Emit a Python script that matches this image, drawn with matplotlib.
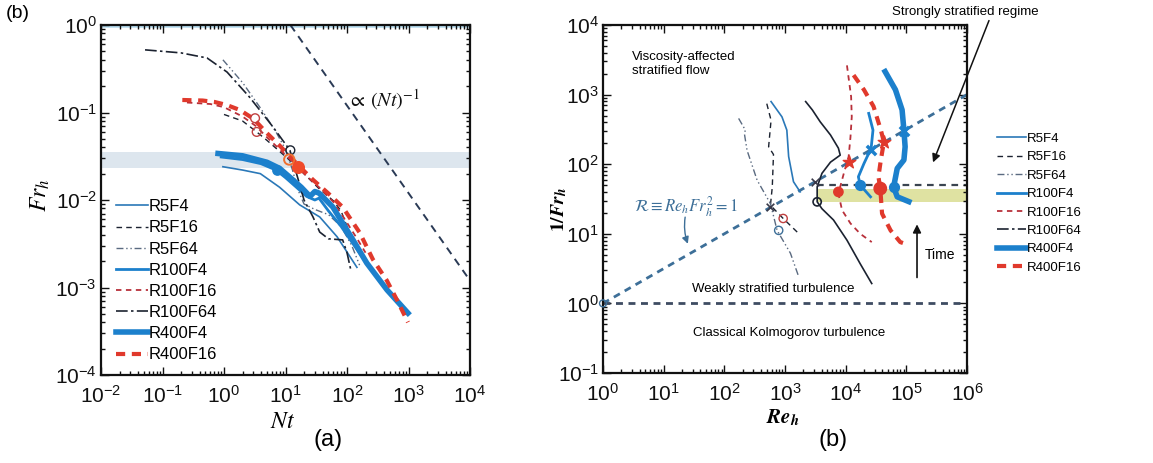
import numpy as np
import matplotlib
matplotlib.use('Agg')
import matplotlib.pyplot as plt
from matplotlib.ticker import LogLocator, LogFormatterSciNotation, NullFormatter

plt.rcParams['font.family'] = ['Liberation Sans', 'DejaVu Sans']
plt.rcParams['mathtext.fontset'] = 'custom'
plt.rcParams['mathtext.rm'] = 'Liberation Sans'
plt.rcParams['mathtext.it'] = 'Liberation Sans:italic'
plt.rcParams['mathtext.bf'] = 'Liberation Sans:bold'

# ---------------- data: panel (a)  Fr_h vs Nt ----------------
labels = ['R5F4', 'R5F16', 'R5F64', 'R100F4', 'R100F16', 'R100F64', 'R400F4', 'R400F16']

a_R5F4_nt = [0.96, 2, 3.9, 8, 17, 36, 69, 145]
a_R5F4_fr = [0.024, 0.022, 0.02, 0.014, 0.0088, 0.0064, 0.0038, 0.0017]

a_R5F16_nt = [1.0, 2, 3.4, 5, 8, 12, 20, 35, 60, 80, 100, 130]
a_R5F16_fr = [0.095, 0.08, 0.06, 0.048, 0.036, 0.028, 0.02, 0.0135, 0.0098, 0.0075, 0.005, 0.0032]

a_R5F64_nt = [0.96, 2, 4, 7, 10, 13, 16, 20, 30, 50, 80, 120, 160]
a_R5F64_fr = [0.4, 0.22, 0.11, 0.06, 0.038, 0.022, 0.013, 0.009, 0.0078, 0.0068, 0.005, 0.003, 0.0018]

a_R100F4_nt = [0.9, 2, 4, 7, 10, 15, 22, 30, 35, 50, 80, 120, 180]
a_R100F4_fr = [0.031, 0.029, 0.026, 0.022, 0.018, 0.014, 0.011, 0.01, 0.0105, 0.0075, 0.005, 0.0033, 0.0022]

a_R100F16_nt = [0.25, 0.6, 1, 2, 3.3, 5, 8, 12, 20, 35, 60, 100, 150, 200]
a_R100F16_fr = [0.13, 0.125, 0.115, 0.09, 0.07, 0.052, 0.038, 0.029, 0.02, 0.014, 0.0095, 0.0055, 0.0035, 0.0025]

a_R100F64_nt = [0.052, 0.2, 0.53, 1.12, 2.6, 6.3, 11.8, 14, 17.5, 20, 28, 36, 50, 85, 100, 115]
a_R100F64_fr = [0.52, 0.48, 0.42, 0.29, 0.15, 0.068, 0.037, 0.024, 0.014, 0.01, 0.0064, 0.0043, 0.0036, 0.0035, 0.0025, 0.0016]

a_R400F4_nt = [0.8, 2, 5, 8, 12, 18, 25, 30, 35, 59, 125, 210, 447, 980]
a_R400F4_fr = [0.034, 0.032, 0.027, 0.023, 0.018, 0.014, 0.011, 0.0125, 0.012, 0.0083, 0.0035, 0.0019, 0.00094, 0.00051]

a_R400F16_nt = [0.21, 0.45, 0.7, 1.1, 1.8, 3, 5, 8, 12, 17, 28, 49, 85, 162, 263, 445, 650, 980]
a_R400F16_fr = [0.139, 0.137, 0.132, 0.122, 0.107, 0.085, 0.058, 0.042, 0.031, 0.024, 0.017, 0.012, 0.0083, 0.0042, 0.0021, 0.0012, 0.00072, 0.0004]

a_ref_nt = [12, 1e4]          # proportional to (Nt)^-1
a_ref_fr = [1.0, 0.0012]
band_fr = [0.023, 0.035]

a_mark_open_nt = [12, 3.2, 3.4, 11.5]
a_mark_open_fr = [0.037, 0.086, 0.06, 0.029]
a_mark_fill_nt = [16, 7.3]
a_mark_fill_fr = [0.024, 0.022]

# ---------------- data: panel (b)  1/Fr_h vs Re_h ----------------
b_R5F4_re = [589, 891, 1072, 1148, 1380, 1778]
b_R5F4_ifr = [794, 479, 309, 129, 56, 40]

b_R5F16_re = [501, 589, 537, 646, 617, 575, 933, 1700]
b_R5F16_ifr = [741, 427, 178, 138, 46.8, 25.7, 16.6, 10]

b_R5F64_re = [172, 222, 214, 237, 347, 575, 741, 1230, 1660]
b_R5F64_ifr = [455, 309, 275, 158, 59, 27.2, 11.2, 5.25, 2.5]

b_R100F4_re = [24000, 28200, 26300, 20000, 16200, 17400, 25700]
b_R100F4_ifr = [537, 309, 170, 102, 66, 50, 34]

b_R100F16_re = [10500, 12300, 12600, 12000, 11200, 9330, 7590, 8710, 12000, 17400, 26900]
b_R100F16_ifr = [2630, 933, 479, 245, 129, 74, 38, 21.9, 14.1, 10, 7.6]

b_R100F64_re = [26900, 17400, 10500, 6300, 4070, 3390, 3390, 4070, 5620, 8130, 7590, 5620, 3800, 2820, 2190]
b_R100F64_ifr = [1.93, 3.7, 8.1, 15.8, 22.9, 28.8, 47.3, 74, 107, 135, 170, 263, 407, 603, 794]

b_R400F4_re = [44700, 66100, 85100, 91200, 95500, 91200, 70800, 61700, 70800, 110000]
b_R400F4_ifr = [2140, 1175, 603, 309, 178, 115, 87, 47, 34, 29]

b_R400F16_re = [13500, 20000, 28800, 38000, 42700, 38000, 34700, 37200, 39800, 55000, 79400, 110000]
b_R400F16_ifr = [1905, 1175, 676, 309, 209, 115, 66, 44.7, 19.5, 11.2, 7.6, 6.9]

b_line_re = [1, 1e6]           # R = Re_h Fr_h^2 = 1
b_line_ifr = [1, 1e3]
b_band_re = [3400, 1e6]
b_band_ifr = [28.6, 43.5]
b_upper_ifr = 51

b_cross_re = [575, 3160, 25700, 91200]
b_cross_ifr = [24, 56, 160, 302]
b_star_re = [11200, 42700]
b_star_ifr = [106, 207]
b_open_re = [3390, 933, 787]
b_open_ifr = [28.8, 16.6, 11.2]
b_fill_re = [7590, 37200, 17400, 61700]
b_fill_ifr = [40, 44.7, 50, 47]

# ---------------- styles ----------------
BLUE = '#1c80cc'
RED = '#e0392c'
DARK = '#1b2230'
styles = {
    'R5F4':    dict(color='#2a78b8', lw=1.2, ls='-'),
    'R5F16':   dict(color=DARK, lw=1.0, ls=(0, (4, 3))),
    'R5F64':   dict(color='#5a6a80', lw=1.0, ls=(0, (5, 2, 1, 2, 1, 2))),
    'R100F4':  dict(color=BLUE, lw=2.0, ls='-'),
    'R100F16': dict(color='#b8303a', lw=1.3, ls=(0, (3, 2.5))),
    'R100F64': dict(color=DARK, lw=1.2, ls=(0, (7, 2, 1.5, 2))),
    'R400F4':  dict(color=BLUE, lw=4.0, ls='-'),
    'R400F16': dict(color=RED, lw=3.0, ls=(0, (2.2, 1.6))),
}

W, H = 1153, 463
fig = plt.figure(figsize=(W / 100, H / 100), dpi=100)


def fx(x):
    return x / W


def fy(y):
    return 1 - y / H


ax1 = fig.add_axes([fx(101), fy(375), 369 / W, 350 / H])
ax2 = fig.add_axes([fx(603), fy(373), 364 / W, 348 / H])


def style_axes(ax, xlim, ylim):
    ax.set_xscale('log')
    ax.set_yscale('log')
    ax.set_xlim(*xlim)
    ax.set_ylim(*ylim)
    for a in (ax.xaxis, ax.yaxis):
        a.set_major_locator(LogLocator(base=10, numticks=20))
        a.set_minor_locator(LogLocator(base=10, subs=np.arange(2, 10), numticks=20))
        a.set_major_formatter(LogFormatterSciNotation())
        a.set_minor_formatter(NullFormatter())
    ax.tick_params(which='both', direction='in', top=True, right=True, width=1.0, colors='#111111')
    ax.tick_params(which='major', length=6, labelsize=15)
    ax.tick_params(which='minor', length=3)
    ax.tick_params(axis='x', pad=7)
    ax.tick_params(axis='y', pad=3)
    for s in ax.spines.values():
        s.set_linewidth(1.6)
        s.set_color('#111111')


style_axes(ax1, (1e-2, 1e4), (1e-4, 1e0))
style_axes(ax2, (1e0, 1e6), (1e-1, 1e4))

# ---------------- panel (a) ----------------
ax1.axhspan(band_fr[0], band_fr[1], color='#dde6ee', zorder=0, lw=0)
ax1.axhline(1.0, color='#b6dcef', lw=4, zorder=1)
ax1.plot(a_ref_nt, a_ref_fr, color='#2a3a55', lw=1.4, ls=(0, (4, 3)))

a_data = {
    'R5F4': (a_R5F4_nt, a_R5F4_fr), 'R5F16': (a_R5F16_nt, a_R5F16_fr),
    'R5F64': (a_R5F64_nt, a_R5F64_fr), 'R100F4': (a_R100F4_nt, a_R100F4_fr),
    'R100F16': (a_R100F16_nt, a_R100F16_fr), 'R100F64': (a_R100F64_nt, a_R100F64_fr),
    'R400F4': (a_R400F4_nt, a_R400F4_fr), 'R400F16': (a_R400F16_nt, a_R400F16_fr),
}
handles_a = []
for lab in labels:
    x, y = a_data[lab]
    h, = ax1.plot(x, y, label=lab, **styles[lab])
    handles_a.append(h)

ax1.scatter(a_mark_open_nt[:1], a_mark_open_fr[:1], s=40, facecolors='none', edgecolors=DARK, lw=1.0, zorder=5)
ax1.scatter(a_mark_open_nt[1:3], a_mark_open_fr[1:3], s=40, facecolors='none', edgecolors='#c04040', lw=1.0, zorder=5)
ax1.scatter(a_mark_open_nt[3:], a_mark_open_fr[3:], s=55, facecolors='none', edgecolors='#f07030', lw=1.4, zorder=5)
ax1.scatter(a_mark_fill_nt[:1], a_mark_fill_fr[:1], s=70, color='#f04a2a', zorder=6)
ax1.scatter(a_mark_fill_nt[1:], a_mark_fill_fr[1:], s=45, color=BLUE, zorder=6)

ax1.text(0.767, 0.786, r'$\propto\,(Nt)^{-1}$', transform=ax1.transAxes, fontsize=14.5,
         ha='center', va='center', math_fontfamily='stix', color='#111111')

leg1 = ax1.legend(handles=handles_a, loc='upper left', bbox_to_anchor=(fx(108), fy(191)),
                  bbox_transform=fig.transFigure, frameon=False, fontsize=12,
                  handlelength=1.9, handletextpad=0.05, labelspacing=0.37, borderpad=0)

# ---------------- panel (b) ----------------
ax2.fill_between(b_band_re, b_band_ifr[0], b_band_ifr[1], color='#dfe2a2', lw=0, zorder=0)
ax2.plot(b_band_re, [b_upper_ifr, b_upper_ifr], color='#3a4450', lw=1.6, ls=(0, (3, 2.5)), zorder=1)
ax2.plot(b_line_re, b_line_ifr, color='#3d6f98', lw=2.0, ls=(0, (2.5, 2)), zorder=2)
ax2.axhline(1.0, color='#3e4c62', lw=2.0, ls=(0, (2.5, 2)), zorder=2)
ax2.scatter([1], [1], s=25, facecolors='none', edgecolors='#3d6f98', zorder=3, clip_on=False)

b_data = {
    'R5F4': (b_R5F4_re, b_R5F4_ifr), 'R5F16': (b_R5F16_re, b_R5F16_ifr),
    'R5F64': (b_R5F64_re, b_R5F64_ifr), 'R100F4': (b_R100F4_re, b_R100F4_ifr),
    'R100F16': (b_R100F16_re, b_R100F16_ifr), 'R100F64': (b_R100F64_re, b_R100F64_ifr),
    'R400F4': (b_R400F4_re, b_R400F4_ifr), 'R400F16': (b_R400F16_re, b_R400F16_ifr),
}
handles_b = []
for lab in labels:
    x, y = b_data[lab]
    st = dict(styles[lab])
    if lab == 'R100F64':
        st['ls'] = '-'
    ax2.plot(x, y, **st)
    handles_b.append(plt.Line2D([], [], label=lab, **styles[lab]))

ax2.scatter(b_cross_re[:2], b_cross_ifr[:2], marker='x', s=30, color='#3a3a4a', lw=1.2, zorder=5)
ax2.scatter(b_cross_re[2:], b_cross_ifr[2:], marker='x', s=45, color=BLUE, lw=2.5, zorder=5)
ax2.scatter(b_star_re, b_star_ifr, marker='*', s=90, color=RED, zorder=5)
ax2.scatter(b_open_re[:1], b_open_ifr[:1], s=35, facecolors='none', edgecolors=DARK, lw=1.2, zorder=5)
ax2.scatter(b_open_re[1:2], b_open_ifr[1:2], s=35, facecolors='none', edgecolors='#c04040', lw=1.0, zorder=5)
ax2.scatter(b_open_re[2:], b_open_ifr[2:], s=35, facecolors='none', edgecolors='#3d6f98', lw=1.0, zorder=5)
ax2.scatter(b_fill_re[:2], b_fill_ifr[:2], s=[45, 80], color=RED, zorder=5)
ax2.scatter(b_fill_re[2:], b_fill_ifr[2:], s=50, color=BLUE, zorder=5)

ax2.text(3.0, 4200, 'Viscosity-affected\nstratified flow', fontsize=9.5, ha='left', va='top',
         linespacing=1.25)
ax2.text(650, 1.6, 'Weakly stratified turbulence', fontsize=9.5, ha='center', va='center')
ax2.text(1150, 0.37, 'Classical Kolmogorov turbulence', fontsize=9.5, ha='center', va='center')
ax2.text(3.6e5, 4.9, 'Time', fontsize=10, ha='center', va='center')
ax2.annotate('', xy=(1.5e5, 15), xytext=(1.5e5, 2.15),
             arrowprops=dict(arrowstyle='-|>', color='#111111', lw=1.2, mutation_scale=12))
ax2.text(23, 25, r'$\mathcal{R}\equiv Re_h Fr_h^2=1$', fontsize=12, ha='center', va='center',
         math_fontfamily='stix', color='#3d6f98')
ax2.annotate('', xy=(26, 6.6), xytext=(23, 19),
             arrowprops=dict(arrowstyle='-|>', color='#3d6f98', lw=1.0, mutation_scale=10,
                             connectionstyle='arc3,rad=0.15'))

fig.text(fx(965), fy(12), 'Strongly stratified regime', fontsize=9.5, ha='center', va='center')
fig.add_artist(matplotlib.patches.FancyArrowPatch(
    (fx(990), fy(18)), (fx(932), fy(165)), transform=fig.transFigure,
    arrowstyle='-|>', mutation_scale=12, color='#111111', lw=1.1))

leg2 = ax2.legend(handles=handles_b, loc='upper left', bbox_to_anchor=(fx(990), fy(126)),
                  bbox_transform=fig.transFigure, frameon=False, fontsize=9.5,
                  handlelength=2.2, handletextpad=0.1, labelspacing=0.47, borderpad=0)

# ---------------- labels ----------------
fig.text(fx(283), fy(422), r'$Nt$', fontsize=17, ha='center', va='center', math_fontfamily='stix')
fig.text(fx(40), fy(195), r'$Fr_h$', fontsize=17, ha='center', va='center', rotation=90, math_fontfamily='stix')
fig.text(fx(783), fy(418), r'$\mathbfit{Re}_{\mathbfit{h}}$', fontsize=15, ha='center', va='center',
         math_fontfamily='stix')
fig.text(fx(559), fy(210), r'$\mathbf{1/}\mathbfit{Fr}_{\mathbfit{h}}$', fontsize=14, ha='center', va='center',
         rotation=90, math_fontfamily='stix')
fig.text(fx(328), fy(440), '(a)', fontsize=17, ha='center', va='center')
fig.text(fx(833), fy(440), '(b)', fontsize=17, ha='center', va='center')
fig.text(fx(18), fy(13), '(b)', fontsize=14, ha='center', va='center')

fig.savefig('out.png', dpi=100)
